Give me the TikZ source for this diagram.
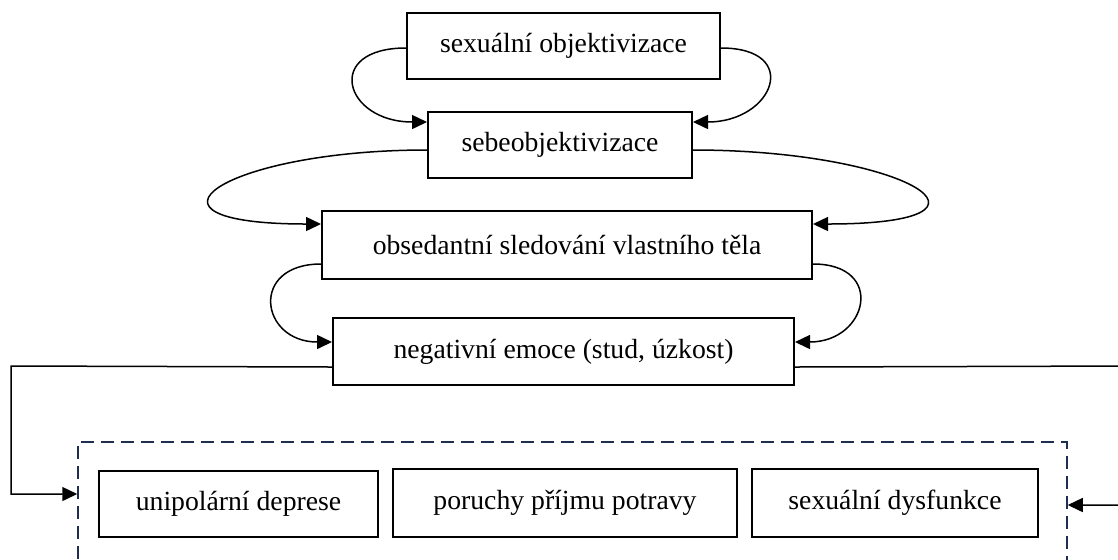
\documentclass[tikz,border=0pt]{standalone}
\usepackage{fontspec}
\setmainfont{Liberation Serif}
\usetikzlibrary{arrows.meta}
\definecolor{navy}{HTML}{1F2D4F}

\begin{document}
\begin{tikzpicture}[
  x=0.5pt, y=-0.5pt,
  font=\fontsize{13.85}{16}\selectfont,
  block/.style={rectangle, draw, line width=1pt, align=center, inner sep=0pt},
  arrow/.style={-{Triangle[length=7.5pt, width=7pt]}, line width=0.75pt},
  group/.style={rectangle, draw=navy, dash pattern=on 6.5pt off 3.5pt, line width=0.75pt, inner sep=0pt}
]
\useasboundingbox (0,0) rectangle (1118,559);
\clip (0,0) rectangle (1118,559);

\node[block, minimum width=156.5pt, minimum height=33pt] (objekt) at (563.5,46) {sexuální objektivizace};
\node[block, minimum width=132pt, minimum height=33pt] (sebe) at (560,145) {sebeobjektivizace};
\node[block, minimum width=245pt, minimum height=34pt] (sledovani) at (567,245) {obsedantní sledování vlastního těla};
\node[block, minimum width=230.5pt, minimum height=33.5pt] (emoce) at (563.5,351.5) {negativní emoce (stud, úzkost)};

% dusledky
\node[group, minimum width=494.5pt, minimum height=79pt] (dusledky) at (572.5,521) {};
\node[block, minimum width=139.5pt, minimum height=33pt] (deprese) at (238.5,504) {unipolární deprese};
\node[block, minimum width=172pt, minimum height=34pt] (poruchy) at (565,503) {poruchy příjmu potravy};
\node[block, minimum width=143pt, minimum height=34pt] (dysfunkce) at (895,503) {sexuální dysfunkce};

\coordinate (lknee) at (11,366);
\coordinate (rknee) at (1130,366);

\draw[arrow] ([yshift=-1pt]objekt.west) to[out=180, in=180, out distance=41.5pt, in distance=41.5pt] ([yshift=-5.5pt]sebe.north west);
\draw[arrow] ([yshift=-1pt]objekt.east) to[out=0, in=0, out distance=40.5pt, in distance=40.5pt] ([yshift=-5.5pt]sebe.north east);
\draw[arrow] ([yshift=-2.5pt]sebe.west) to[out=180, in=180, out distance=102pt, in distance=102pt] ([yshift=-7pt]sledovani.north west);
\draw[arrow] ([yshift=-2.5pt]sebe.east) to[out=0, in=0, out distance=106.5pt, in distance=106.5pt] ([yshift=-7pt]sledovani.north east);
\draw[arrow] ([yshift=8pt]sledovani.south west) to[out=180, in=180, out distance=36pt, in distance=36pt] ([yshift=-12.5pt]emoce.north west);
\draw[arrow] ([yshift=8pt]sledovani.south east) to[out=0, in=0, out distance=36.5pt, in distance=36.5pt] ([yshift=-12.5pt]emoce.north east);

\draw[arrow] ([yshift=9.5pt]emoce.south west) -- (lknee) |- ([yshift=13.5pt]dusledky.west);
\draw[arrow] ([yshift=9.5pt]emoce.south east) -- (rknee) |- ([yshift=8pt]dusledky.east);
\end{tikzpicture}
\end{document}
